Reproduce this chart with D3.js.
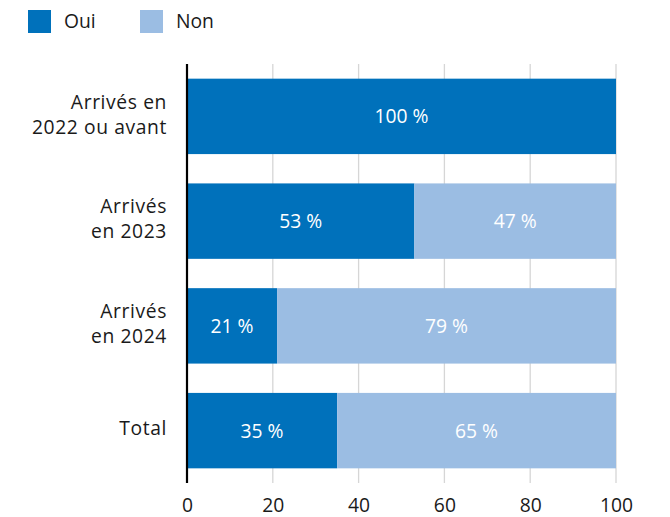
<!DOCTYPE html>
<html><head><meta charset="utf-8">
<script src="https://cdn.jsdelivr.net/npm/d3@7"></script>
<style>body{margin:0;background:#fff}svg{display:block}text{font-family:"Open Sans",Roboto,sans-serif}</style>
</head><body><svg id="c" width="670" height="517"></svg>
<script>
const categories = [["Arrivés en","2022 ou avant"],["Arrivés","en 2023"],["Arrivés","en 2024"],["Total"]];
const oui = [100,53,21,35];
const non = [0,47,79,65];
const seriesNames = ["Oui","Non"];
const ticks = [0,20,40,60,80,100];
const colors = ["#0071BB","#9BBDE3"];

const FS = 19.3;
const svg = d3.select("#c");
const x = d3.scaleLinear().domain([0,100]).range([187,616]);
const y = d3.scaleBand().domain(d3.range(categories.length)).range([64,483]).paddingInner(0.28).paddingOuter(0.14);

// grid
svg.append("g").selectAll("line").data(ticks.slice(1)).join("line")
  .attr("x1",d=>x(d)).attr("x2",d=>x(d)).attr("y1",64).attr("y2",483)
  .attr("stroke","#d6d6d6").attr("stroke-width",1.3);

const rows = categories.map((c,i)=>({i, vals:[oui[i],non[i]]}));
const g = svg.append("g");
rows.forEach(r=>{
  let acc=0;
  r.vals.forEach((v,k)=>{
    if(v>0){
      g.append("rect").attr("x",x(acc)).attr("y",y(r.i)).attr("width",x(acc+v)-x(acc)).attr("height",y.bandwidth()).attr("fill",colors[k]);
      g.append("text").attr("x",(x(acc)+x(acc+v))/2).attr("y",y(r.i)+y.bandwidth()/2+7)
        .attr("text-anchor","middle").attr("fill","#fff").attr("font-size",FS).text(v+" %");
    }
    acc+=v;
  });
});

// category labels
categories.forEach((lines,i)=>{
  const cy = y(i)+y.bandwidth()/2;
  const t = svg.append("text").attr("text-anchor","end").attr("fill","#1a1a1a").attr("font-size",FS).attr("letter-spacing",0.6);
  const n = lines.length;
  lines.forEach((l,j)=>{
    t.append("tspan").attr("x",167).attr("y",cy+4.7+(j-(n-1)/2)*25).text(l);
  });
});

// x axis
const ax = svg.append("g").attr("transform","translate(0,483)")
  .call(d3.axisBottom(x).tickValues(ticks).tickSize(0).tickPadding(15.7));
ax.select(".domain").remove();
ax.selectAll("text").attr("font-size",FS).attr("fill","#1a1a1a").attr("font-family","'Open Sans',Roboto,sans-serif");

// y axis line
svg.append("line").attr("x1",187).attr("x2",187).attr("y1",64).attr("y2",483).attr("stroke","#000").attr("stroke-width",2.2);

// legend
const leg = svg.append("g");
[28,140].forEach((lx,k)=>{
  leg.append("rect").attr("x",lx).attr("y",10).attr("width",23).attr("height",23).attr("fill",colors[k]);
  leg.append("text").attr("x",lx+36).attr("y",28.3).attr("font-size",FS).attr("fill","#1a1a1a").text(seriesNames[k]);
});
</script></body></html>
